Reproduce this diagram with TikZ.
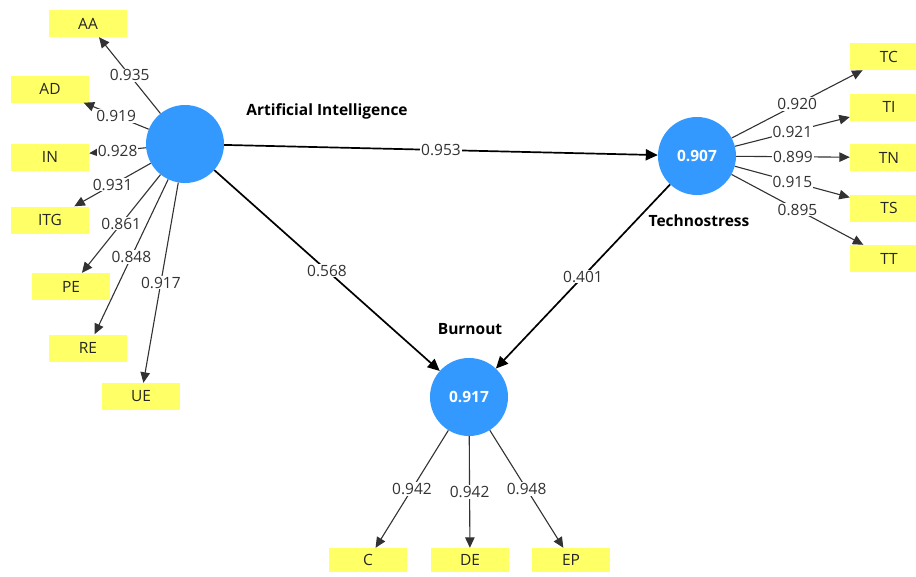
\documentclass[tikz,border=0pt]{standalone}
\usepackage{fontspec}
\setmainfont{Open Sans}
\usetikzlibrary{arrows.meta}
\definecolor{plsblue}{RGB}{51,153,255}
\definecolor{plsyellow}{RGB}{255,255,102}
\definecolor{loadgray}{RGB}{50,50,50}
\tikzset{
  latent/.style={circle, fill=plsblue, minimum size=78pt, inner sep=0pt,
    text=white, font=\fontsize{15.5}{18}\selectfont\bfseries},
  indicator/.style={rectangle, fill=plsyellow, minimum width=78pt,
    minimum height=27pt, inner sep=0pt, text=black!85,
    font=\fontsize{15.5}{18}\selectfont},
  lvtitle/.style={font=\fontsize{15.5}{18}\selectfont\bfseries, text=black},
  structarrow/.style={line width=1.7pt, draw=black,
    -{Triangle[length=12pt,width=11pt]}},
  loadarrow/.style={line width=1.1pt, draw=loadgray,
    -{Triangle[length=10.5pt,width=9.5pt]}},
  coef/.style={fill=white, inner sep=1pt, text=loadgray,
    font=\fontsize{15.5}{18}\selectfont},
}
\begin{document}
\begin{tikzpicture}[x=1pt, y=-1pt]
\clip (0,0) rectangle (916,576);

% latent variables
\node[latent] (AI) at (185,144) {};
\node[latent] (TS) at (697,156) {0.907};
\node[latent] (BO) at (469,397) {0.917};

\node[lvtitle] at (327,111) {Artificial Intelligence};
\node[lvtitle] at (699,221) {Technostress};
\node[lvtitle] at (470,329) {Burnout};

% indicators of Artificial Intelligence
\node[indicator] (AA)  at (88,23.5)  {AA};
\node[indicator] (AD)  at (50,89)    {AD};
\node[indicator] (IN)  at (50,157)   {IN};
\node[indicator] (ITG) at (50,220)   {ITG};
\node[indicator] (PE)  at (71,286.5) {PE};
\node[indicator] (RE)  at (88,348)   {RE};
\node[indicator] (UE)  at (141,396.5){UE};

% indicators of Technostress
\node[indicator] (TC) at (889,56.5)  {TC};
\node[indicator] (TI) at (889,107)   {TI};
\node[indicator] (TN) at (889,157.5) {TN};
\node[indicator] (TSi) at (889,208)  {TS};
\node[indicator] (TT) at (889,258.5) {TT};

% indicators of Burnout
\node[indicator, minimum height=24pt] (C)  at (368,560) {C};
\node[indicator, minimum height=24pt] (DE) at (470,560) {DE};
\node[indicator, minimum height=24pt] (EP) at (571,560) {EP};

% outer loadings
\draw[loadarrow] (AI) -- node[coef]{0.935} (AA);
\draw[loadarrow] (AI) -- node[coef]{0.919} (AD);
\draw[loadarrow] (AI) -- node[coef]{0.928} (IN);
\draw[loadarrow] (AI) -- node[coef]{0.931} (ITG);
\draw[loadarrow] (AI) -- node[coef]{0.861} (PE);
\draw[loadarrow] (AI) -- node[coef]{0.848} (RE);
\draw[loadarrow] (AI) -- node[coef]{0.917} (UE);

\draw[loadarrow] (TS) -- node[coef]{0.920} (TC);
\draw[loadarrow] (TS) -- node[coef]{0.921} (TI);
\draw[loadarrow] (TS) -- node[coef]{0.899} (TN);
\draw[loadarrow] (TS) -- node[coef]{0.915} (TSi);
\draw[loadarrow] (TS) -- node[coef]{0.895} (TT);

\draw[loadarrow] (BO) -- node[coef]{0.942} (C);
\draw[loadarrow] (BO) -- node[coef]{0.942} (DE);
\draw[loadarrow] (BO) -- node[coef]{0.948} (EP);

% path coefficients
\draw[structarrow] (AI) -- node[coef]{0.953} (TS);
\draw[structarrow] (AI) -- node[coef]{0.568} (BO);
\draw[structarrow] (TS) -- node[coef]{0.401} (BO);
\end{tikzpicture}
\end{document}
